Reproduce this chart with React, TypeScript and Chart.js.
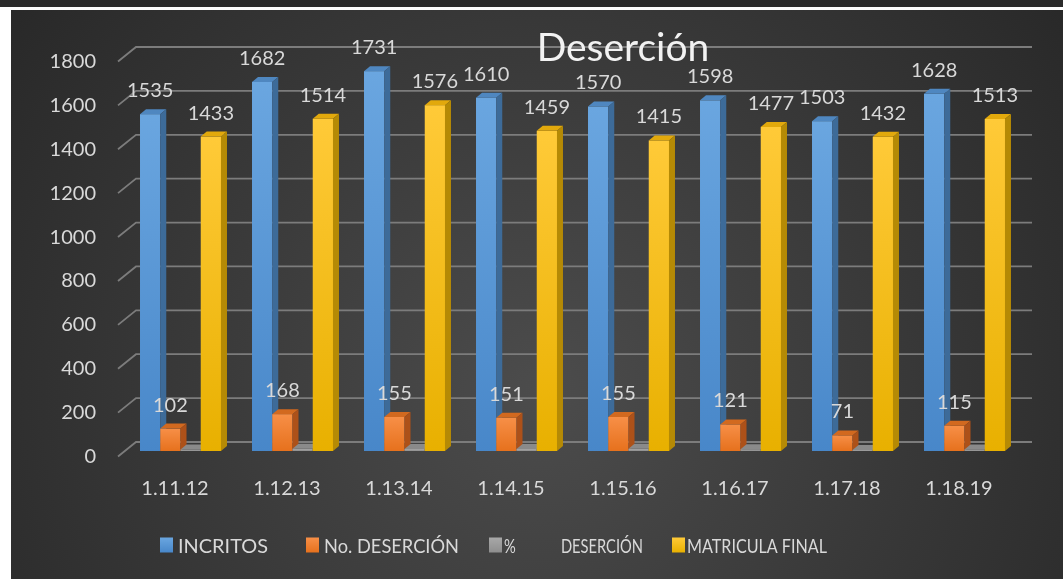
import { useEffect, useRef } from 'react';
import { Chart, registerables } from 'chart.js';

Chart.register(...registerables);

// ---- data ----
const categories = ['1.11.12', '1.12.13', '1.13.14', '1.14.15', '1.15.16', '1.16.17', '1.17.18', '1.18.19'];
const inscritos = [1535, 1682, 1731, 1610, 1570, 1598, 1503, 1628];
const desercion = [102, 168, 155, 151, 155, 121, 71, 115];
const porcentajeDesercion = [6.6, 10.0, 9.0, 9.4, 9.9, 7.6, 4.7, 7.1];
const matriculaFinal = [1433, 1514, 1576, 1459, 1415, 1477, 1432, 1513];
const seriesNames = ['INCRITOS', 'No. DESERCIÓN', '%            DESERCIÓN', 'MATRICULA FINAL'];
const labelledSeries = [true, true, false, true];
const yMin = 0;
const yMax = 1800;
const yStep = 200;
const chartTitle = 'Deserción';

// ---- styles ----
const FONT = 'Lato';
const TEXT = '#d9d9d9';
const faces = [
  { front: ['#6aa6e0', '#4887c9'], top: '#4f87c0', side: '#3d6b99' },
  { front: ['#f78f47', '#e6711d'], top: '#d2691f', side: '#ad5119' },
  { front: ['#a8a8a8', '#8e8e8e'], top: '#8a8a8a', side: '#6f6f6f' },
  { front: ['#ffca38', '#e8b000'], top: '#e2a90c', side: '#b58a05' },
];
const DX = 6;
const DY = 5;
const legendBoxX = [149, 295, 478, 661];
const legendTextX = [167, 313, 493, 676];
const legendTextW = [90, 135, 139, 140];

const threeD = {
  id: 'threeD',
  beforeDraw(chart: any) {
    const { ctx, width, height } = chart;
    ctx.save();
    const g = ctx.createRadialGradient(530, 380, 0, 530, 380, 700);
    g.addColorStop(0, '#4c4c4c');
    g.addColorStop(1, '#262626');
    ctx.fillStyle = g;
    ctx.fillRect(0, 0, width, height);
    ctx.restore();
  },
  beforeDatasetsDraw(chart: any) {
    const { ctx, chartArea, scales } = chart;
    const ys = scales.y;
    ctx.save();
    ctx.strokeStyle = '#7c7c7c';
    ctx.lineWidth = 1.8;
    for (let v = yMin; v <= yMax; v += yStep) {
      const yb = ys.getPixelForValue(v);
      ctx.beginPath();
      ctx.moveTo(chartArea.left - 6.5, yb + 5.5);
      ctx.lineTo(chartArea.left + 11.5, yb - 9);
      ctx.lineTo(chartArea.right + 11.5, yb - 9);
      ctx.stroke();
    }
    ctx.restore();
  },
  afterDatasetsDraw(chart: any) {
    const { ctx } = chart;
    const n = chart.data.labels.length;
    ctx.save();
    for (let i = 0; i < n; i++) {
      chart.data.datasets.forEach((_ds: any, d: number) => {
        const el = chart.getDatasetMeta(d).data[i];
        if (!el) return;
        const { x, y, base, width } = el.getProps(['x', 'y', 'base', 'width'], true);
        const l = x - width / 2;
        const r = x + width / 2;
        const f = faces[d];
        const gr = ctx.createLinearGradient(0, y, 0, base);
        gr.addColorStop(0, f.front[0]);
        gr.addColorStop(1, f.front[1]);
        ctx.fillStyle = gr;
        ctx.fillRect(l, y, width, base - y);
        ctx.fillStyle = f.top;
        ctx.beginPath();
        ctx.moveTo(l, y);
        ctx.lineTo(r, y);
        ctx.lineTo(r + DX, y - DY);
        ctx.lineTo(l + DX, y - DY);
        ctx.closePath();
        ctx.fill();
        ctx.fillStyle = f.side;
        ctx.beginPath();
        ctx.moveTo(r, y);
        ctx.lineTo(r + DX, y - DY);
        ctx.lineTo(r + DX, base - DY);
        ctx.lineTo(r, base);
        ctx.closePath();
        ctx.fill();
      });
    }
    // data labels
    ctx.font = `20px ${FONT}`;
    ctx.fillStyle = TEXT;
    ctx.textAlign = 'center';
    ctx.textBaseline = 'alphabetic';
    chart.data.datasets.forEach((ds: any, d: number) => {
      if (!labelledSeries[d]) return;
      chart.getDatasetMeta(d).data.forEach((el: any, i: number) => {
        const { x, y } = el.getProps(['x', 'y'], true);
        ctx.fillText(String(ds.data[i]), x, y - 17);
      });
    });
    ctx.restore();
  },
  afterDraw(chart: any) {
    const { ctx } = chart;
    ctx.save();
    // title
    ctx.font = `39px ${FONT}`;
    ctx.fillStyle = '#f2f2f2';
    ctx.textAlign = 'center';
    ctx.textBaseline = 'alphabetic';
    ctx.fillText(chartTitle, 612, 51);
    // legend
    ctx.font = `20px ${FONT}`;
    ctx.textAlign = 'left';
    chart.data.datasets.forEach((ds: any, d: number) => {
      const x0 = legendBoxX[d];
      const g = ctx.createLinearGradient(0, 527.5, 0, 542.5);
      g.addColorStop(0, faces[d].front[0]);
      g.addColorStop(1, faces[d].front[1]);
      ctx.fillStyle = g;
      ctx.fillRect(x0, 527.5, 13, 15);
      ctx.fillStyle = TEXT;
      ctx.fillText(ds.label, legendTextX[d], 542.7, legendTextW[d]);
    });
    ctx.restore();
  },
};

export default function App() {
  const ref = useRef<HTMLCanvasElement | null>(null);
  useEffect(() => {
    if (!ref.current) return;
    const series = [inscritos, desercion, porcentajeDesercion, matriculaFinal];
    const chart = new Chart(ref.current, {
      type: 'bar',
      data: {
        labels: categories,
        datasets: series.map((data, d) => ({
          label: seriesNames[d],
          data,
          backgroundColor: 'rgba(0,0,0,0)',
          borderWidth: 0,
          barPercentage: 1,
          categoryPercentage: 0.723,
        })),
      },
      options: {
        responsive: false,
        animation: false,
        devicePixelRatio: 1,
        layout: { padding: { left: 0, top: 46, right: 42.5, bottom: 0 } },
        plugins: {
          legend: { display: false },
          title: { display: false },
          tooltip: { enabled: false },
        },
        scales: {
          x: {
            grid: { display: false, drawTicks: false },
            border: { display: false },
            ticks: {
              color: TEXT,
              font: { family: FONT, size: 20 },
              padding: 26,
              labelOffset: -5.5,
              maxRotation: 0,
              autoSkip: false,
            },
            afterFit: (s: any) => {
              s.height = 128;
            },
          },
          y: {
            min: yMin,
            max: yMax,
            grid: { display: false, drawTicks: false },
            border: { display: false },
            ticks: {
              stepSize: yStep,
              color: TEXT,
              font: { family: FONT, size: 20 },
              padding: 28.5,
              labelOffset: 5.5,
              callback: (v: any) => String(v),
            },
            afterFit: (s: any) => {
              s.width = 113.5;
            },
          },
        },
      },
      plugins: [threeD],
    });
    return () => chart.destroy();
  }, []);
  return (
    <div style={{ position: 'fixed', inset: 0, background: '#ffffff', overflow: 'hidden' }}>
      <div style={{ position: 'absolute', left: 0, top: 0, width: '100%', height: 7, background: '#2b2b2b' }} />
      <canvas
        ref={ref}
        width={1052}
        height={569}
        style={{ position: 'absolute', left: 11, top: 10, width: 1052, height: 569 }}
      />
    </div>
  );
}
